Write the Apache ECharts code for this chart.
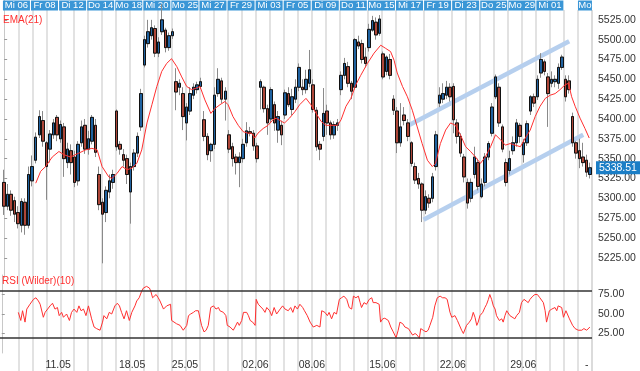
<!DOCTYPE html>
<html><head><meta charset="utf-8">
<script src="https://cdn.jsdelivr.net/npm/echarts@6/dist/echarts.min.js"></script>
<style>html,body{margin:0;padding:0;background:#fff}#c{width:640px;height:371px}</style>
</head><body><div id="c"></div>
<script>
// ---- data ----
const open = [
5320,5290,5305,5297,5282,5266,5295,5266,5322,5348,
5380,5398,5370,5362,5380,5402,5375,5390,5345,5360,
5352,5322,5370,5392,5362,5372,5392,5330,5295,5282,
5308,5320,5410,5368,5355,5350,5308,5340,5357,5390,
5468,5495,5505,5514,5483,5510,5512,5490,5505,5447,
5440,5432,5395,5410,5430,5437,5441,5399,5378,5360,
5368,5432,5448,5425,5380,5365,5352,5345,5350,5370,
5384,5382,5366,5440,5440,5413,5400,5418,5386,5392,
5405,5432,5412,5425,5440,5440,5437,5445,5443,5411,
5368,5378,5410,5395,5380,5392,5437,5455,5466,5445,
5440,5497,5495,5478,5490,5512,5522,5508,5482,5460,
5475,5425,5410,5370,5405,5395,5370,5340,5325,5318,
5285,5300,5300,5340,5420,5425,5430,5440,5441,5395,
5378,5352,5320,5300,5330,5345,5302,5320,5352,5382,
5428,5440,5390,5345,5335,5360,5370,5392,5355,5370,
5410,5428,5428,5458,5472,5453,5445,5447,5445,5465,
5450,5448,5403,5370,5360,5352,5348,5330];
const close = [
5290,5305,5285,5280,5268,5296,5266,5330,5340,5377,
5403,5372,5340,5381,5395,5380,5393,5350,5362,5345,
5320,5368,5390,5362,5375,5402,5358,5292,5280,5310,
5322,5330,5365,5362,5348,5330,5340,5357,5378,5432,
5500,5510,5515,5483,5497,5525,5490,5505,5510,5434,
5445,5403,5415,5432,5440,5443,5447,5378,5355,5368,
5430,5450,5425,5435,5362,5350,5345,5352,5368,5385,
5382,5366,5350,5447,5413,5395,5437,5395,5403,5380,
5433,5418,5428,5440,5465,5437,5450,5462,5412,5365,
5362,5407,5395,5380,5393,5395,5455,5470,5445,5435,
5500,5492,5475,5470,5513,5524,5506,5526,5453,5478,
5455,5411,5370,5390,5398,5378,5344,5323,5318,5285,
5302,5294,5327,5380,5430,5432,5440,5428,5399,5378,
5357,5327,5294,5320,5352,5315,5318,5352,5369,5415,
5453,5395,5362,5320,5350,5370,5395,5378,5370,5394,
5428,5420,5450,5475,5460,5432,5450,5450,5465,5478,
5428,5437,5370,5357,5350,5345,5333,5338.51];
const low = [
5279,5285,5278,5270,5262,5257,5254,5262,5315,5344,
5376,5365,5298,5345,5375,5372,5370,5327,5338,5330,
5314,5316,5365,5356,5355,5368,5352,5285,5218,5270,
5300,5312,5360,5355,5340,5318,5268,5335,5352,5385,
5465,5490,5500,5478,5478,5506,5484,5486,5501,5411,
5430,5386,5373,5405,5425,5432,5438,5372,5348,5346,
5362,5428,5420,5398,5357,5340,5330,5314,5345,5365,
5378,5360,5345,5412,5408,5380,5395,5385,5370,5367,
5400,5415,5405,5420,5435,5430,5432,5440,5408,5360,
5348,5372,5380,5374,5375,5385,5430,5450,5440,5425,
5437,5488,5470,5465,5485,5510,5500,5505,5450,5455,
5450,5405,5357,5365,5392,5372,5340,5318,5312,5270,
5280,5288,5295,5335,5415,5420,5425,5422,5382,5369,
5352,5320,5287,5295,5325,5310,5300,5315,5348,5378,
5425,5390,5358,5315,5330,5355,5365,5370,5345,5366,
5405,5415,5424,5452,5455,5390,5440,5440,5438,5462,
5422,5432,5365,5350,5338,5340,5327,5325];
const high = [
5336,5318,5310,5302,5290,5300,5300,5340,5354,5383,
5411,5410,5372,5386,5400,5405,5398,5395,5370,5368,
5360,5372,5398,5400,5385,5405,5400,5340,5300,5315,
5330,5336,5412,5372,5362,5355,5345,5362,5383,5438,
5505,5525,5525,5518,5503,5545,5515,5509,5514,5464,
5450,5440,5420,5440,5445,5447,5452,5410,5382,5370,
5440,5464,5452,5440,5386,5370,5356,5358,5375,5396,
5390,5386,5370,5450,5442,5418,5440,5422,5410,5398,
5437,5440,5438,5450,5470,5450,5462,5487,5450,5415,
5372,5439,5418,5398,5397,5400,5460,5477,5472,5448,
5502,5505,5500,5490,5520,5530,5528,5531,5485,5480,
5482,5430,5415,5420,5415,5400,5372,5345,5332,5320,
5310,5305,5332,5385,5440,5445,5448,5445,5445,5400,
5382,5356,5325,5325,5365,5350,5325,5357,5372,5420,
5456,5445,5393,5350,5360,5378,5400,5395,5375,5398,
5430,5432,5455,5483,5475,5458,5460,5455,5470,5481,
5455,5455,5408,5372,5375,5370,5355,5345];

// EMA(21) as [candle position, value]
const emaPoints = [[9.0,5319],[10.4,5334],[11.8,5340],[13.7,5352],[15.6,5359],[17.0,5355],[18.9,5352],[21.3,5357],[23.2,5361],[25.0,5363],[26.5,5361],[27.9,5340],[29.8,5327],[30.7,5325],[32.1,5331],[33.6,5340],[35.0,5336],[36.4,5338],[37.8,5344],[39.2,5361],[40.7,5395],[42.1,5418],[43.5,5441],[44.9,5460],[46.3,5470],[47.7,5476],[49.2,5466],[50.6,5453],[52.0,5441],[53.4,5437],[54.8,5439],[55.8,5441],[57.2,5424],[58.9,5407],[60.0,5413],[61.5,5418],[62.9,5422],[63.8,5418],[65.2,5403],[66.7,5392],[68.1,5384],[69.5,5382],[70.5,5382],[71.4,5376],[72.3,5382],[73.8,5388],[75.2,5392],[76.6,5399],[77.5,5401],[79.0,5397],[79.9,5395],[81.3,5401],[82.8,5409],[84.2,5418],[86.0,5426],[87.4,5418],[88.9,5407],[90.3,5397],[91.7,5392],[93.1,5392],[95.0,5392],[96.0,5399],[97.4,5416],[98.8,5426],[100.2,5443],[101.6,5455],[103.5,5470],[105.4,5483],[107.3,5493],[108.7,5489],[110.1,5485],[111.1,5474],[112.0,5458],[113.5,5441],[114.9,5428],[116.3,5411],[117.7,5390],[119.1,5369],[120.6,5348],[122.0,5340],[122.9,5344],[124.3,5369],[125.8,5386],[127.2,5395],[128.6,5392],[130.0,5380],[131.5,5365],[132.9,5359],[134.3,5352],[135.7,5344],[137.1,5352],[138.6,5365],[140.0,5380],[141.4,5374],[142.8,5367],[144.2,5369],[145.6,5367],[147.1,5365],[148.5,5376],[149.9,5386],[151.3,5403],[152.7,5416],[154.2,5426],[155.6,5430],[157.0,5432],[158.4,5437],[159.8,5443],[160.8,5445],[161.7,5428],[162.7,5416],[164.1,5401],[165.5,5388],[166.7,5376]];

// RSI (Wilder)(10) as [candle position, value]
const rsiPoints = [[4.7,52.1],[5.4,41.7],[5.9,54.2],[6.6,39.6],[7.1,56.3],[8.0,62.5],[9.0,68.8],[9.7,70.8],[10.4,66.7],[10.9,62.5],[11.3,60.4],[11.8,45.8],[12.3,52.1],[12.7,54.2],[13.7,60.4],[14.4,63.8],[15.1,56.3],[15.8,58.3],[16.3,47.9],[17.0,52.1],[17.5,45.8],[18.4,50.0],[19.2,41.7],[19.8,52.1],[20.5,56.3],[21.3,52.1],[21.9,60.4],[22.5,54.2],[23.2,56.3],[23.9,47.9],[24.6,60.4],[25.0,58.3],[25.5,43.8],[26.2,33.3],[26.9,31.3],[27.9,29.2],[28.6,39.6],[29.0,47.9],[29.8,43.8],[30.5,52.1],[31.2,50.0],[32.1,60.4],[32.8,63.8],[33.4,60.4],[34.0,52.1],[34.7,43.8],[35.4,54.2],[35.9,56.3],[36.2,41.7],[36.9,52.1],[37.8,60.4],[38.3,66.7],[39.0,70.8],[39.7,79.2],[40.2,83.3],[41.1,85.4],[41.9,83.3],[42.3,79.2],[42.8,70.8],[43.2,68.8],[43.8,75.0],[44.4,70.8],[44.9,66.7],[45.9,56.3],[46.8,60.4],[47.3,62.5],[47.9,62.5],[48.2,41.7],[48.7,39.6],[49.6,37.5],[50.6,35.4],[51.1,33.3],[51.5,29.2],[52.0,31.3],[52.5,35.4],[53.0,47.9],[53.6,50.0],[54.4,52.1],[55.0,54.2],[55.8,54.2],[56.3,43.8],[56.7,35.4],[57.4,27.1],[58.0,29.2],[58.6,35.4],[59.3,58.3],[60.1,60.4],[60.8,56.3],[61.5,58.3],[61.9,54.2],[62.9,52.1],[63.6,47.9],[64.0,35.4],[64.8,33.3],[65.7,29.2],[66.2,33.3],[66.9,39.6],[67.4,35.4],[68.1,41.7],[68.6,52.1],[69.5,52.1],[70.0,47.9],[70.5,41.7],[71.2,39.6],[71.9,35.4],[72.2,68.8],[72.8,62.5],[73.3,60.4],[74.1,56.3],[74.7,52.1],[75.2,58.3],[76.0,54.2],[76.6,47.9],[77.3,58.3],[78.0,50.0],[79.0,56.3],[79.7,60.4],[80.4,56.3],[80.9,58.3],[81.3,54.2],[82.0,58.3],[82.6,52.1],[83.2,60.4],[83.9,56.3],[84.6,62.5],[85.4,58.3],[85.9,54.2],[86.4,56.3],[86.7,47.9],[87.5,39.6],[88.4,33.3],[89.4,35.4],[90.3,33.3],[90.8,54.2],[91.7,52.1],[92.4,47.9],[92.9,52.1],[93.6,43.8],[94.3,52.1],[95.0,50.0],[95.5,50.0],[95.8,68.8],[96.4,70.8],[97.1,72.9],[97.9,68.8],[98.6,58.3],[99.3,56.3],[99.8,72.9],[100.5,70.8],[101.2,72.9],[101.7,64.6],[102.1,58.3],[102.8,64.6],[103.5,62.5],[104.3,68.8],[105.0,70.8],[105.4,64.6],[106.2,64.6],[106.6,66.7],[107.1,62.5],[107.5,39.6],[108.1,43.8],[108.7,44.6],[109.7,41.7],[110.4,33.3],[111.1,27.1],[111.9,19.6],[112.5,29.2],[113.0,39.6],[113.8,37.5],[114.4,33.3],[115.4,31.3],[115.8,29.2],[116.6,22.9],[117.3,25.0],[117.9,22.9],[118.5,18.8],[118.9,31.3],[119.6,29.2],[120.4,27.1],[121.0,29.2],[121.5,35.4],[122.3,45.8],[122.9,60.4],[123.6,70.8],[124.4,72.9],[125.1,70.8],[125.8,70.8],[126.4,68.8],[127.2,52.1],[127.7,45.8],[128.1,47.9],[128.6,47.9],[129.3,41.7],[129.8,39.6],[130.5,29.2],[131.0,25.0],[131.5,25.0],[131.9,35.4],[132.7,39.6],[133.3,43.8],[133.8,52.1],[134.3,45.8],[134.8,35.4],[135.2,39.6],[135.7,47.9],[136.5,52.1],[137.1,58.3],[137.6,62.5],[138.1,68.8],[138.5,75.0],[139.0,68.8],[139.5,60.4],[140.0,56.3],[140.4,47.9],[141.2,41.7],[141.9,43.8],[142.3,39.6],[142.8,47.9],[143.3,54.2],[143.8,56.3],[144.2,47.9],[144.7,45.8],[145.6,43.8],[146.1,47.9],[146.9,52.1],[147.5,64.6],[148.2,68.8],[148.8,66.7],[149.4,64.6],[149.9,68.8],[150.7,72.9],[151.3,75.0],[152.0,75.0],[152.3,77.1],[152.7,70.8],[153.7,64.6],[154.2,54.2],[154.6,39.6],[155.1,41.7],[155.4,54.2],[156.1,56.3],[156.5,56.3],[157.0,58.3],[157.5,54.2],[157.9,60.4],[158.4,62.5],[158.9,58.3],[159.4,45.8],[159.8,43.8],[160.1,54.2],[160.5,52.1],[161.1,43.8],[161.4,43.8],[162.0,35.4],[162.7,31.3],[163.6,29.2],[164.6,29.2],[165.2,31.3],[166.0,29.2],[166.5,27.1],[166.9,33.3]];

// trend channel lines [candle position, price]
const chanUpper = [[115.3,5392],[161,5498]];
const chanLower = [[119.5,5273],[165,5380]];
const rsiBands = [80, 20];

const headerLabels = ['Mi 06','Fr 08','Di 12','Do 14','Mo 18','Mi 20','Mo 25','Mi 27','Fr 29','Mi 03','Fr 05','Di 09','Do 11','Mo 15','Mi 17','Fr 19','Di 23','Do 25','Mo 29','Mi 01','Mo'];
const xLabelIdx  = [16,37,52,72,88,108,128,148,166];
const xLabelText = ['11.05','18.05','25.05','02.06','08.06','15.06','22.06','29.06','-'];

const priceMin = 5200, priceMax = 5550, priceStep = 25;

// ---- chart ----
const N = open.length;
const categories = open.map((_, i) => String(i));
const candleRows = open.map((o, i) => [o, close[i], low[i], high[i]]);
const bodyRows = open.map((o, i) => [o, close[i], Math.min(o, close[i]), Math.max(o, close[i])]);
const lastClose = close[N - 1];

const FONT = '"Liberation Sans", Arial, sans-serif';
const RED = '#ff3030';
const HDR = '#3a96d6';
const axisLbl = { color: '#333', fontSize: 10.5, fontFamily: FONT, margin: 6 };

const chart = echarts.init(document.getElementById('c'), null, { renderer: 'canvas' });
chart.setOption({
  animation: false,
  backgroundColor: '#fff',
  textStyle: { fontFamily: FONT },
  title: [
    { text: 'EMA(21)', left: 3, top: 15, padding: 0, textStyle: { fontSize: 10, fontWeight: 'normal', color: RED, fontFamily: FONT } },
    { text: 'RSI (Wilder)(10)', left: 2, top: 276, padding: 0, textStyle: { fontSize: 10, fontWeight: 'normal', color: RED, fontFamily: FONT } }
  ],
  grid: [
    { left: 0, right: 48, top: 0, height: 277.6 },
    { left: 0, right: 48, top: 275, height: 80 },
    { left: 18.3, right: 48, top: 10, bottom: 0 }
  ],
  xAxis: [
    { type: 'category', gridIndex: 0, data: categories, show: false, boundaryGap: true },
    { type: 'value', gridIndex: 0, min: -0.5, max: N - 0.5, show: false },
    { type: 'category', gridIndex: 0, position: 'top', data: headerLabels, boundaryGap: true,
      axisLine: { show: false }, axisTick: { show: false }, splitLine: { show: false },
      axisLabel: { inside: true, margin: 0, interval: 0, color: '#fff', fontSize: 9.5,
        formatter: (v, i) => i === headerLabels.length - 1 ? '{g|}{h|' + v + '}' : '{b|' + v + '}',
        rich: {
          b: { width: 27, height: 10, lineHeight: 11, align: 'center', backgroundColor: HDR, color: '#fff', fontSize: 9.5, fontFamily: FONT },
          g: { width: 14, height: 10 },
          h: { width: 14, height: 10, lineHeight: 11, align: 'center', backgroundColor: HDR, color: '#fff', fontSize: 9.5, fontFamily: FONT }
        } } },
    { type: 'value', gridIndex: 1, min: -0.5, max: N - 0.5, show: false },
    { type: 'category', gridIndex: 1, data: categories, position: 'bottom', boundaryGap: true,
      axisLine: { show: false }, axisTick: { show: false }, splitLine: { show: false },
      axisLabel: { interval: (i) => xLabelIdx.includes(i), formatter: (v, i) => xLabelText[xLabelIdx.indexOf(i)] || '',
        color: '#333', fontSize: 10.5, fontFamily: FONT, margin: 7 } },
    { type: 'value', gridIndex: 2, min: 0, max: 41.02, interval: 1,
      axisLine: { show: false }, axisTick: { show: false }, axisLabel: { show: false },
      splitLine: { show: true, lineStyle: { color: '#d9d9d9', width: 1.5 } } }
  ],
  yAxis: [
    { type: 'value', gridIndex: 0, position: 'right', min: priceMin, max: priceMax, interval: priceStep,
      axisLine: { show: true, lineStyle: { color: '#c8c8c8' } },
      axisTick: { show: true, length: 3, lineStyle: { color: '#999' } },
      splitLine: { show: false },
      axisLabel: Object.assign({ showMinLabel: false, showMaxLabel: false, formatter: v => v.toFixed(2) }, axisLbl) },
    { type: 'value', gridIndex: 1, position: 'right', min: 0, max: 100, interval: 25,
      axisLine: { show: true, lineStyle: { color: '#c8c8c8' } },
      axisTick: { show: true, length: 3, lineStyle: { color: '#999' } },
      splitLine: { show: false },
      axisLabel: Object.assign({ showMinLabel: false, showMaxLabel: false, formatter: v => v.toFixed(2) }, axisLbl) },
    { type: 'value', gridIndex: 2, min: 0, max: 1, show: false }
  ],
  series: [
    { name: 'channelUpper', type: 'line', xAxisIndex: 1, yAxisIndex: 0, data: chanUpper, showSymbol: false, z: 1,
      lineStyle: { color: '#b6cfee', width: 4.5 } },
    { name: 'channelLower', type: 'line', xAxisIndex: 1, yAxisIndex: 0, data: chanLower, showSymbol: false, z: 1,
      lineStyle: { color: '#b6cfee', width: 4.5 } },
    { name: 'wick', type: 'candlestick', xAxisIndex: 0, yAxisIndex: 0, data: candleRows, barWidth: 3, z: 2,
      itemStyle: { color: 'rgba(0,0,0,0)', color0: 'rgba(0,0,0,0)', borderColor: '#8a8a8a', borderColor0: '#8a8a8a', borderColorDoji: '#8a8a8a', borderWidth: 1 } },
    { name: 'body', type: 'candlestick', xAxisIndex: 0, yAxisIndex: 0, data: bodyRows, barWidth: 3, z: 3,
      itemStyle: { color: '#2062a0', color0: '#ad4638', borderColor: '#111', borderColor0: '#111', borderColorDoji: '#111', borderWidth: 1 },
      markLine: { silent: true, symbol: ['none', 'none'], animation: false,
        lineStyle: { color: 'rgba(0,0,0,0)', width: 0 },
        label: { show: true, position: 'end', formatter: () => lastClose.toFixed(2), backgroundColor: '#1b7ec6', color: '#fff',
          fontSize: 10.5, fontFamily: FONT, padding: [1, 6, 1, 3], distance: 4 },
        data: [{ yAxis: lastClose }] } },
    { name: 'EMA(21)', type: 'line', xAxisIndex: 1, yAxisIndex: 0, data: emaPoints, showSymbol: false, z: 4,
      lineStyle: { color: RED, width: 1 } },
    { name: 'RSI', type: 'line', xAxisIndex: 3, yAxisIndex: 1, data: rsiPoints, showSymbol: false, z: 4,
      lineStyle: { color: RED, width: 1 },
      markLine: { silent: true, symbol: ['none', 'none'], animation: false, label: { show: false },
        lineStyle: { color: '#333', width: 1.5, type: 'solid' },
        data: rsiBands.map(v => ({ yAxis: v })) } }
  ]
});
</script>
</body></html>
